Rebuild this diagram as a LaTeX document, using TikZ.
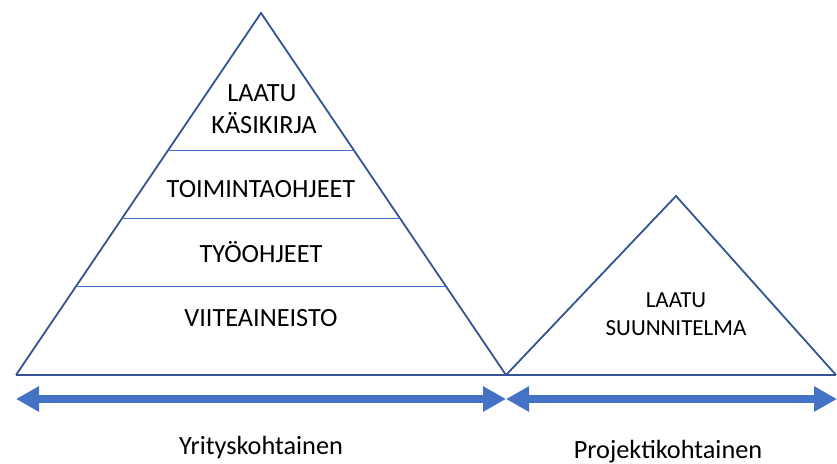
\documentclass[tikz,border=0pt]{standalone}
\usepackage{fontspec}
\setmainfont{Carlito}
\usetikzlibrary{arrows.meta,calc}

\begin{document}
\begin{tikzpicture}[x=1pt,y=-1pt,
    outline/.style={draw=pyr_edge,line width=1.8pt,line join=miter},
    divider/.style={draw=pyr_line,line width=0.9pt},
    bigtext/.style={anchor=base,font=\fontsize{26.3}{32}\selectfont},
    smalltext/.style={anchor=base,font=\fontsize{23}{28}\selectfont},
    spanarrow/.style={draw=pyr_line,line width=8pt,{Triangle[length=23pt,width=24pt]}-{Triangle[length=23pt,width=24pt]}}]
    \definecolor{pyr_edge}{RGB}{52,84,145}
    \definecolor{pyr_line}{RGB}{68,114,196}
    \useasboundingbox (0,0) rectangle (837,463);
    % corners of the two triangles
    \coordinate (bigL) at (16,375);
    \coordinate (bigT) at (261,13);
    \coordinate (bigR) at (506,375);
    \coordinate (smallT) at (676,196);
    \coordinate (smallR) at (836,375);
    \draw[outline] (bigL) -- (bigT) -- (bigR);
    \draw[outline] (bigR) -- (smallT) -- (smallR);
    \draw[outline] (bigL) -- (smallR);
    % levels of the big triangle
    \draw[divider] ($(bigL)!0.6215!(bigT)$) -- ($(bigR)!0.6215!(bigT)$);
    \draw[divider] ($(bigL)!0.4337!(bigT)$) -- ($(bigR)!0.4337!(bigT)$);
    \draw[divider] ($(bigL)!0.2459!(bigT)$) -- ($(bigR)!0.2459!(bigT)$);
    \node[bigtext] (laatu)  at (262,101) {LAATU};
    \node[bigtext] (kasik)  at (264,133) {KÄSIKIRJA};
    \node[bigtext] (toim)   at (261,197) {TOIMINTAOHJEET};
    \node[bigtext] (tyo)    at (261,262) {TYÖOHJEET};
    \node[bigtext] (viite)  at (261,326) {VIITEAINEISTO};
    \node[smalltext] (laatuB) at (676,307) {LAATU};
    \node[smalltext] (suunn)  at (676,335) {SUUNNITELMA};
    % span arrows
    \coordinate (arrL) at (16,399);
    \coordinate (arrM) at (506,399);
    \coordinate (arrR) at (837,399);
    \draw[spanarrow] (arrL) -- (arrM);
    \draw[spanarrow] (arrM) -- (arrR);
    \node[bigtext] (yritys)  at (261,454) {Yrityskohtainen};
    \node[bigtext] (projekti) at (668,458) {Projektikohtainen};
\end{tikzpicture}
\end{document}
